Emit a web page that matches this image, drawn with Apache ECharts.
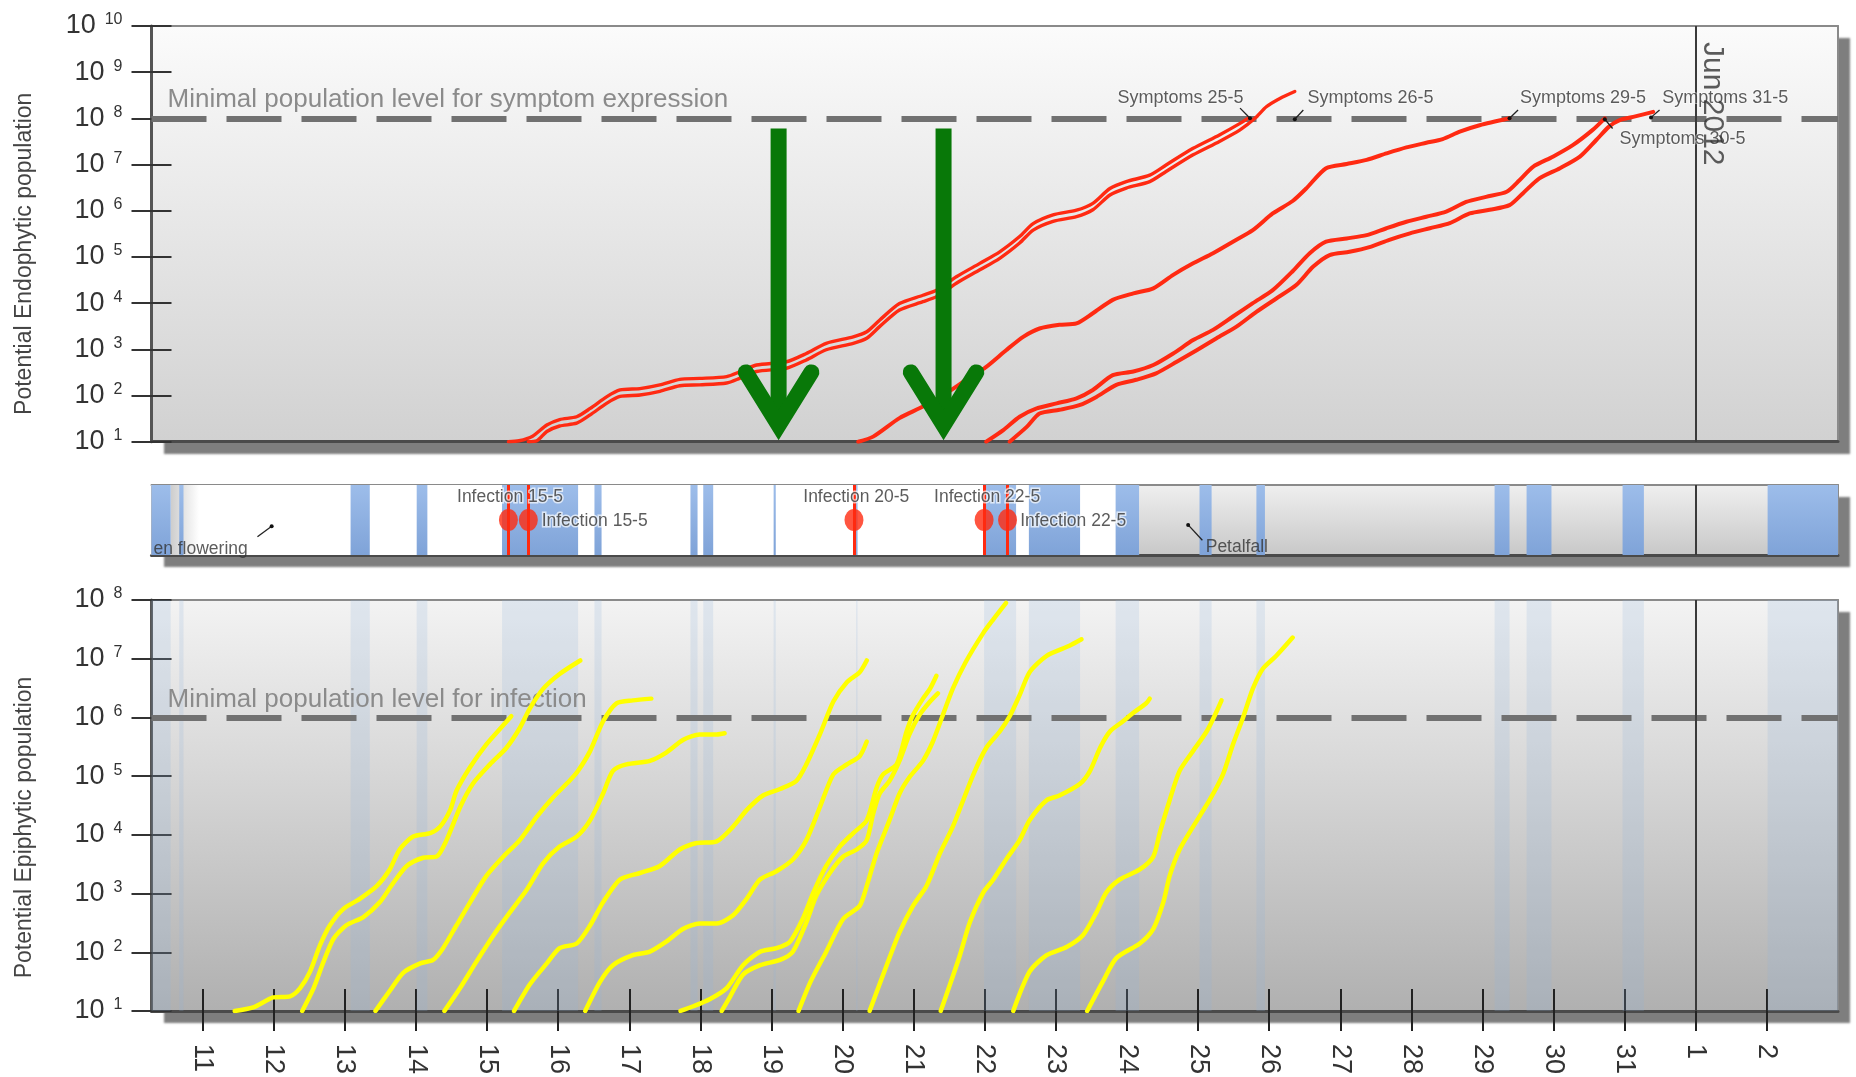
<!DOCTYPE html>
<html>
<head>
<meta charset="utf-8">
<script src="https://cdn.jsdelivr.net/npm/echarts@6/dist/echarts.min.js"></script>
<style>
html,body{margin:0;padding:0;background:#ffffff;}
#c{width:1856px;height:1077px;}
</style>
</head>
<body>
<div id="c"></div>
<script>
// ---------------- DATA (x = day of May; 32 = 1 June; y values are log10 of population) ----------------
const X_MIN = 10.28, X_MAX = 34.0;
const tickDays = [11,12,13,14,15,16,17,18,19,20,21,22,23,24,25,26,27,28,29,30,31,32,33];
const tickLabels = ['11','12','13','14','15','16','17','18','19','20','21','22','23','24','25','26','27','28','29','30','31','1','2'];
const monthStartDay = 32;           // 1 June
const monthLabel = 'Jun 2012';

// wet periods (rain / leaf wetness) [start, end] in days
const wetPeriods = [[10.28,10.55],[10.67,10.73],[13.08,13.35],[14.01,14.16],[15.21,16.28],[16.51,16.61],
  [17.86,17.96],[18.04,18.18],[19.03,19.06],[20.19,20.21],[21.99,22.44],[22.62,23.34],[23.84,24.17],
  [25.02,25.19],[25.82,25.94],[29.17,29.38],[29.62,29.97],[30.97,31.27],[33.01,34.0]];
const bloomPeriod = [10.28, 24.17];

const infectionDays = [15.30, 15.58, 20.16, 21.99, 22.32];
const infectionLabels = [
  {text:'Infection 15-5', at:[14.57,0.83]},
  {text:'Infection 15-5', at:[15.76,0.49]},
  {text:'Infection 20-5', at:[19.44,0.83]},
  {text:'Infection 22-5', at:[21.28,0.83]},
  {text:'Infection 22-5', at:[22.49,0.49]}
];
const stageLabels = [
  {text:'en flowering', at:[10.30,0.09]},
  {text:'Petalfall', at:[25.10,0.11]}
];
const stageLeaders = [
  [[11.77,0.26],[11.97,0.41]],
  [[25.06,0.21],[24.86,0.43]]
];

const symptomThreshold = 8;   // 10^8
const infectionThreshold = 6; // 10^6

// Potential endophytic population (log10)
const endoInf1530 = [[15.30,1.00],[15.45,1.02],[15.64,1.12],[15.84,1.36],[16.02,1.48],[16.26,1.54],[16.45,1.72],[16.68,1.97],[16.87,2.12],[17.15,2.15],[17.43,2.23],[17.71,2.35],[17.99,2.37],[18.37,2.41],[18.55,2.51],[18.79,2.66],[19.21,2.73],[19.49,2.91],[19.77,3.13],[20.15,3.27],[20.34,3.38],[20.52,3.63],[20.80,3.99],[21.13,4.17],[21.32,4.28],[21.60,4.57],[21.93,4.86],[22.21,5.11],[22.49,5.44],[22.68,5.72],[22.96,5.91],[23.29,6.01],[23.52,6.16],[23.76,6.48],[23.99,6.63],[24.32,6.77],[24.55,6.99],[24.93,7.35],[25.30,7.64],[25.59,7.89],[25.70,8.00]];
const endoInf1558 = [[15.58,1.00],[15.70,1.02],[15.84,1.22],[16.02,1.34],[16.26,1.40],[16.45,1.58],[16.68,1.83],[16.87,1.98],[17.15,2.01],[17.43,2.09],[17.71,2.21],[17.99,2.23],[18.37,2.27],[18.55,2.37],[18.79,2.52],[19.21,2.59],[19.49,2.77],[19.77,2.99],[20.15,3.13],[20.34,3.24],[20.52,3.49],[20.80,3.85],[21.13,4.03],[21.32,4.14],[21.60,4.43],[21.93,4.72],[22.21,4.97],[22.49,5.30],[22.68,5.58],[22.96,5.77],[23.29,5.87],[23.52,6.02],[23.76,6.34],[23.99,6.49],[24.32,6.63],[24.55,6.85],[24.93,7.21],[25.30,7.50],[25.59,7.75],[25.80,8.00],[25.96,8.25],[26.15,8.43],[26.36,8.58]];
const endoInf2016 = [[20.22,1.00],[20.43,1.11],[20.80,1.51],[21.13,1.76],[21.46,2.05],[21.74,2.34],[22.02,2.62],[22.30,2.98],[22.54,3.27],[22.77,3.45],[23.05,3.53],[23.29,3.56],[23.52,3.78],[23.80,4.07],[24.09,4.21],[24.37,4.32],[24.65,4.61],[24.93,4.86],[25.21,5.08],[25.49,5.33],[25.77,5.58],[26.05,5.94],[26.33,6.21],[26.52,6.48],[26.80,6.92],[27.09,7.01],[27.37,7.10],[27.65,7.24],[27.93,7.37],[28.21,7.47],[28.44,7.55],[28.68,7.71],[28.96,7.85],[29.38,8.00]];
const endoInf2199 = [[22.02,1.00],[22.26,1.25],[22.49,1.54],[22.73,1.72],[23.01,1.83],[23.29,1.94],[23.52,2.12],[23.80,2.44],[24.09,2.52],[24.37,2.66],[24.65,2.91],[24.93,3.20],[25.21,3.42],[25.49,3.71],[25.77,4.00],[26.05,4.28],[26.33,4.69],[26.57,5.08],[26.80,5.33],[27.09,5.40],[27.37,5.47],[27.65,5.62],[27.93,5.76],[28.21,5.87],[28.49,5.98],[28.77,6.19],[29.05,6.30],[29.34,6.41],[29.52,6.66],[29.71,6.95],[29.99,7.17],[30.27,7.42],[30.55,7.75],[30.72,8.00]];
const endoInf2232 = [[22.35,1.00],[22.59,1.32],[22.77,1.61],[23.05,1.69],[23.33,1.79],[23.57,1.97],[23.85,2.23],[24.13,2.34],[24.41,2.48],[24.70,2.73],[24.98,2.98],[25.26,3.24],[25.54,3.49],[25.82,3.81],[26.10,4.10],[26.38,4.39],[26.62,4.79],[26.85,5.04],[27.13,5.11],[27.41,5.21],[27.69,5.37],[27.98,5.51],[28.26,5.62],[28.54,5.73],[28.82,5.94],[29.10,6.02],[29.38,6.12],[29.57,6.38],[29.80,6.70],[30.09,6.92],[30.37,7.17],[30.60,7.53],[30.78,7.82],[30.93,7.96],[31.12,8.03],[31.40,8.14]];

const symptomLabels = [
  {text:'Symptoms 25-5', at:[23.86,8.44]},
  {text:'Symptoms 26-5', at:[26.53,8.44]},
  {text:'Symptoms 29-5', at:[29.52,8.44]},
  {text:'Symptoms 30-5', at:[30.92,7.55]},
  {text:'Symptoms 31-5', at:[31.52,8.44]}
];
const symptomLeaders = [
  [[25.59,8.22],[25.73,8.00]],
  [[26.48,8.18],[26.36,7.98]],
  [[29.50,8.18],[29.38,8.00]],
  [[30.83,7.78],[30.72,7.98]],
  [[31.49,8.18],[31.37,8.02]]
];

// highlighted days (green arrows)
const arrowDays = [19.10, 21.42];
const arrowTop = 7.78, arrowVertex = 1.36, arrowWingEnd = 2.50, arrowWingHalf = 0.46;

// Potential epiphytic population (log10)
const epi01 = [[11.45,1.00],[11.71,1.06],[11.99,1.23],[12.23,1.25],[12.37,1.39],[12.51,1.67],[12.65,2.12],[12.79,2.46],[12.98,2.74],[13.21,2.91],[13.45,3.13],[13.63,3.41],[13.77,3.75],[13.96,3.97],[14.20,4.03],[14.34,4.14],[14.48,4.42],[14.57,4.75],[14.76,5.15],[14.99,5.54],[15.23,5.87],[15.34,6.02]];
const epi02 = [[12.40,1.00],[12.56,1.39],[12.70,1.84],[12.84,2.23],[13.02,2.46],[13.26,2.60],[13.49,2.85],[13.68,3.18],[13.87,3.47],[14.10,3.61],[14.29,3.63],[14.43,3.91],[14.62,4.47],[14.80,4.87],[15.04,5.20],[15.27,5.48],[15.46,5.82],[15.60,6.15],[15.79,6.49],[16.02,6.74],[16.31,6.97]];
const epi03 = [[13.43,1.00],[13.63,1.34],[13.82,1.65],[14.06,1.81],[14.24,1.87],[14.38,2.07],[14.57,2.46],[14.76,2.85],[14.99,3.30],[15.23,3.63],[15.46,3.91],[15.70,4.31],[15.93,4.64],[16.16,4.92],[16.28,5.09],[16.45,5.43],[16.63,5.93],[16.82,6.24],[17.05,6.29],[17.31,6.32]];
const epi04 = [[14.40,1.00],[14.62,1.39],[14.85,1.84],[15.09,2.29],[15.32,2.68],[15.56,3.07],[15.79,3.52],[16.02,3.80],[16.26,3.97],[16.45,4.25],[16.63,4.70],[16.77,5.09],[16.96,5.20],[17.29,5.26],[17.52,5.40],[17.76,5.62],[17.99,5.71],[18.23,5.71],[18.34,5.73]];
const epi05 = [[15.38,1.00],[15.60,1.45],[15.84,1.81],[16.02,2.07],[16.26,2.15],[16.45,2.46],[16.63,2.85],[16.87,3.24],[17.15,3.35],[17.43,3.47],[17.71,3.75],[17.95,3.86],[18.23,3.89],[18.46,4.14],[18.65,4.42],[18.88,4.67],[19.12,4.78],[19.35,4.92],[19.49,5.20],[19.68,5.71],[19.87,6.27],[20.06,6.60],[20.24,6.77],[20.34,6.97]];
const epi06 = [[16.38,1.00],[16.59,1.50],[16.77,1.78],[17.05,1.95],[17.29,2.01],[17.52,2.18],[17.76,2.40],[17.99,2.49],[18.23,2.49],[18.46,2.63],[18.65,2.91],[18.84,3.24],[19.07,3.38],[19.30,3.58],[19.49,3.91],[19.68,4.47],[19.87,5.03],[20.06,5.20],[20.24,5.34],[20.34,5.59]];
const epi07 = [[17.72,1.00],[17.90,1.08],[18.13,1.20],[18.37,1.39],[18.60,1.78],[18.84,2.01],[19.07,2.07],[19.26,2.18],[19.44,2.57],[19.59,3.02],[19.77,3.47],[19.96,3.80],[20.15,4.03],[20.34,4.25],[20.48,4.81],[20.57,5.03],[20.76,5.20],[20.90,5.76],[20.99,6.04],[21.13,6.32],[21.23,6.49],[21.32,6.71]];
const epi08 = [[18.30,1.00],[18.42,1.25],[18.60,1.62],[18.84,1.78],[19.12,1.87],[19.30,2.01],[19.49,2.51],[19.63,2.96],[19.82,3.35],[20.01,3.63],[20.20,3.75],[20.34,3.91],[20.43,4.36],[20.52,4.70],[20.66,4.92],[20.80,5.26],[20.94,5.71],[21.08,6.04],[21.23,6.27],[21.34,6.41]];
const epi09 = [[19.38,1.00],[19.55,1.50],[19.77,2.01],[20.01,2.57],[20.24,2.79],[20.34,3.13],[20.48,3.69],[20.66,4.25],[20.80,4.70],[20.94,4.98],[21.13,5.26],[21.27,5.59],[21.41,6.04],[21.55,6.49],[21.73,6.94],[21.98,7.44],[22.12,7.67],[22.30,7.95]];
const epi10 = [[20.38,1.00],[20.62,1.78],[20.80,2.34],[20.99,2.79],[21.18,3.13],[21.37,3.69],[21.55,4.14],[21.84,5.03],[22.02,5.48],[22.21,5.76],[22.35,6.02],[22.49,6.38],[22.63,6.77],[22.87,7.05],[23.19,7.22],[23.36,7.33]];
const epi11 = [[21.38,1.00],[21.51,1.45],[21.65,1.95],[21.79,2.51],[21.98,3.02],[22.12,3.24],[22.30,3.58],[22.49,3.91],[22.63,4.25],[22.87,4.59],[23.05,4.67],[23.34,4.87],[23.48,5.09],[23.62,5.48],[23.76,5.76],[23.94,5.93],[24.08,6.07],[24.27,6.24],[24.32,6.32]];
const epi12 = [[22.40,1.00],[22.63,1.67],[22.87,1.95],[23.15,2.09],[23.38,2.29],[23.57,2.68],[23.71,3.02],[23.90,3.24],[24.18,3.41],[24.37,3.63],[24.46,4.03],[24.60,4.59],[24.74,5.09],[24.93,5.43],[25.12,5.76],[25.26,6.10],[25.33,6.29]];
const epi13 = [[23.44,1.00],[23.66,1.50],[23.85,1.90],[24.18,2.15],[24.37,2.40],[24.51,2.85],[24.60,3.30],[24.74,3.75],[24.93,4.14],[25.16,4.59],[25.35,5.03],[25.49,5.54],[25.63,5.99],[25.77,6.49],[25.91,6.83],[26.10,7.05],[26.33,7.36]];

const endoCurves = [endoInf1530, endoInf1558, endoInf2016, endoInf2199, endoInf2232];
const epiCurves = [epi01, epi02, epi03, epi04, epi05, epi06, epi07, epi08, epi09, epi10, epi11, epi12, epi13];

// ---------------- STYLE / LAYOUT ----------------
const FONT = "'Liberation Sans', Arial, sans-serif";
const GL = 151.5, GW = 1686.5;
const RED = '#ff2a12', YELLOW = '#ffff00', GREEN = '#087808';
const pow = e => Math.pow(10, e);
const idn = v => v;
const grad = (c1, c2) => new echarts.graphic.LinearGradient(0,0,0,1,[{offset:0,color:c1},{offset:1,color:c2}]);
const panelShadow = {shadowColor:'#7e7e7e', shadowBlur:2, shadowOffsetX:12, shadowOffsetY:12, borderWidth:0};

const yLabel = {
  margin: 29,
  formatter: v => '{b|10}{s|' + Math.round(Math.log10(v)) + '}',
  rich: {
    b: {fontSize:27, lineHeight:28, color:'#333', fontFamily:FONT},
    s: {fontSize:16, lineHeight:14, color:'#333', verticalAlign:'top', padding:[0,0,0,9], fontFamily:FONT}
  }
};
function logAxis(grid, min, max, name, pad) {
  return {type:'log', logBase:10, gridIndex:grid, min, max, position:'left',
    axisLine:{show:true, onZero:false, lineStyle:{color:'#555', width:3}},
    axisTick:{show:true, length:20, lineStyle:{color:'#333', width:2}},
    axisLabel:yLabel, splitLine:{show:false}, minorTick:{show:false},
    name, nameLocation:'middle', nameGap:115,
    nameTextStyle:{fontSize:23, color:'#444', fontFamily:FONT, padding:[0,pad,0,0]}};
}
function logAxisInner(grid, min, max) {
  return {type:'log', logBase:10, gridIndex:grid, min, max, position:'left',
    axisLine:{show:false}, axisTick:{show:true, inside:true, length:20, lineStyle:{color:'#333', width:2}},
    axisLabel:{show:false}, splitLine:{show:false}};
}
function xBase(grid, extra) {
  return Object.assign({type:'value', gridIndex:grid, min:X_MIN, max:X_MAX, position:'bottom',
    splitLine:{show:false}, axisLabel:{show:false}, axisTick:{show:false},
    axisLine:{show:true, onZero:false, lineStyle:{color:'#4a4a4a', width:3}}}, extra || {});
}
// frame edges (top and right) drawn as bare axis lines
function frameX(grid) {
  return {type:'value', gridIndex:grid, min:X_MIN, max:X_MAX, position:'top', splitLine:{show:false},
    axisLabel:{show:false}, axisTick:{show:false}, axisLine:{show:true, onZero:false, lineStyle:{color:'#8a8a8a', width:2}}};
}
function frameY(grid) {
  return {type:'value', gridIndex:grid, min:0, max:1, position:'right', splitLine:{show:false},
    axisLabel:{show:false}, axisTick:{show:false}, axisLine:{show:true, onZero:false, lineStyle:{color:'#8a8a8a', width:2}}};
}

function curve(pts, xi, yi, color, width, z) {
  return {type:'line', xAxisIndex:xi, yAxisIndex:yi, silent:true, showSymbol:false, smooth:0.25,
    data: pts.map(p => [p[0], pow(p[1])]), lineStyle:{color, width, cap:'round', join:'round'}, z: z || 5};
}
function labelSeries(items, xi, yi, conv, style) {
  return {type:'scatter', xAxisIndex:xi, yAxisIndex:yi, silent:true, symbolSize:1, z:9,
    itemStyle:{color:'rgba(0,0,0,0)'},
    data: items.map(it => ({name: it.text, value:[it.at[0], conv(it.at[1])]})),
    label: Object.assign({show:true, position:'right', distance:0, formatter:'{b}', fontFamily:FONT}, style)};
}
function leaderSeries(pts, xi, yi, conv) {
  return {type:'line', xAxisIndex:xi, yAxisIndex:yi, silent:true, z:9, showSymbol:true,
    lineStyle:{color:'#222', width:1.3}, itemStyle:{color:'#111'},
    data: pts.map((p,i) => ({value:[p[0], conv(p[1])], symbol: i === pts.length-1 ? 'circle' : 'none', symbolSize:4}))};
}
const monthLine = {xAxis: monthStartDay, lineStyle:{color:'#3a3a3a', width:2, type:'solid'}, label:{show:false}};
function thresholdLine(e, text) {
  return {yAxis: pow(e), lineStyle:{color:'#717171', width:6, type:[55,20]},
    label:{show:true, position:'insideStartTop', distance:[16,5], formatter:text, fontSize:26, color:'#8b8b8b', fontFamily:FONT}};
}

const series = [];

// ---- top panel: endophytic ----
endoCurves.forEach((c, i) => {
  const s = curve(c, 0, 0, RED, i < 2 ? 3.4 : 4, 5);
  if (i === 0) {
    s.markLine = {silent:true, symbol:['none','none'], animation:false,
      data:[thresholdLine(symptomThreshold, 'Minimal population level for symptom expression'), monthLine]};
  }
  series.push(s);
});
symptomLeaders.forEach(l => series.push(leaderSeries(l, 0, 0, pow)));
series.push(labelSeries(symptomLabels, 0, 0, pow, {fontSize:18, color:'#333', textBorderColor:'rgba(255,255,255,0.6)', textBorderWidth:2}));
series.push({type:'scatter', xAxisIndex:0, yAxisIndex:0, silent:true, symbolSize:1, z:9, itemStyle:{color:'rgba(0,0,0,0)'},
  data:[{name:monthLabel, value:[monthStartDay + 0.23, pow(9.65)]}],
  label:{show:true, position:'inside', rotate:-90, align:'left', verticalAlign:'middle', formatter:'{b}', fontSize:30, color:'#333', fontFamily:FONT}});
arrowDays.forEach(d => {
  series.push({type:'line', xAxisIndex:0, yAxisIndex:0, silent:true, showSymbol:false, z:12,
    data:[[d, pow(arrowTop)], [d, pow(arrowVertex)]], lineStyle:{color:GREEN, width:16, cap:'butt'}});
  series.push({type:'line', xAxisIndex:0, yAxisIndex:0, silent:true, showSymbol:false, z:12, clip:false,
    data:[[d - arrowWingHalf, pow(arrowWingEnd)], [d, pow(arrowVertex)], [d + arrowWingHalf, pow(arrowWingEnd)]],
    lineStyle:{color:GREEN, width:16, cap:'round', join:'miter'}});
});

// ---- middle strip: wet periods + infections ----
const stripAreas = [[{xAxis:bloomPeriod[0], itemStyle:{color:'#ffffff'}}, {xAxis:bloomPeriod[1]}],
  [{xAxis:wetPeriods[0][1], itemStyle:{color:new echarts.graphic.LinearGradient(0,0,1,0,[{offset:0,color:'#cdcdcd'},{offset:1,color:'#ffffff'}])}}, {xAxis:10.95}]];
wetPeriods.forEach(w => stripAreas.push([{xAxis:w[0], itemStyle:{color:grad('#9dbdea', '#7fa3d8')}}, {xAxis:w[1]}]));
series.push({type:'line', xAxisIndex:1, yAxisIndex:2, silent:true, showSymbol:false, z:1,
  data:[[X_MIN, 0]], lineStyle:{opacity:0},
  markArea:{silent:true, animation:false, data:stripAreas},
  markLine:{silent:true, symbol:['none','none'], animation:false, data:[monthLine]}});
series.push({type:'scatter', xAxisIndex:1, yAxisIndex:2, silent:true, z:6, symbol:'circle', symbolSize:[19,22],
  itemStyle:{color:'#ff2a10'}, data: infectionDays.map(d => [d, 0.5]),
  markLine:{silent:true, symbol:['none','none'], animation:false,
    data: infectionDays.map(d => ({xAxis:d, lineStyle:{color:'#ff2a10', width:3, type:'solid'}, label:{show:false}}))}});
series.push(labelSeries(infectionLabels, 1, 2, idn, {fontSize:17.5, color:'#333', textBorderColor:'rgba(255,255,255,0.85)', textBorderWidth:3}));
series.push(labelSeries(stageLabels, 1, 2, idn, {fontSize:17.5, color:'#333'}));
stageLeaders.forEach(l => series.push(leaderSeries(l, 1, 2, idn)));

// ---- bottom panel: epiphytic ----
const epiAreas = wetPeriods.map(w => [{xAxis:w[0], itemStyle:{color:'rgba(145,178,222,0.2)'}}, {xAxis:w[1]}]);
series.push({type:'line', xAxisIndex:2, yAxisIndex:3, silent:true, showSymbol:false, z:1,
  data:[[X_MIN, 10]], lineStyle:{opacity:0},
  markArea:{silent:true, animation:false, data:epiAreas},
  markLine:{silent:true, symbol:['none','none'], animation:false,
    data:[thresholdLine(infectionThreshold, 'Minimal population level for infection'), monthLine]}});
epiCurves.forEach(c => series.push(curve(c, 2, 3, YELLOW, 4.5, 5)));

const option = {
  animation:false,
  backgroundColor:'#ffffff',
  textStyle:{fontFamily:FONT},
  grid:[
    Object.assign({left:GL, top:25.9, width:GW, height:415.8, show:true, backgroundColor:grad('#fbfbfb','#d1d1d1')}, panelShadow),
    Object.assign({left:GL, top:485, width:GW, height:70, show:true, backgroundColor:grad('#efefef','#c8c8c8')}, panelShadow),
    Object.assign({left:GL, top:600, width:GW, height:416.7, show:true, backgroundColor:grad('#f3f3f3','#b0b0b0')}, panelShadow)
  ],
  xAxis:[
    xBase(0),
    xBase(1),
    xBase(2, {
      axisTick:{show:true, customValues:tickDays, length:20, lineStyle:{color:'#222', width:2}},
      axisLabel:{show:true, customValues:tickDays, rotate:-90, margin:33, fontSize:27, color:'#333', fontFamily:FONT,
        formatter: v => tickLabels[tickDays.indexOf(Math.round(v))]}
    }),
    xBase(2, {axisLine:{show:false}, axisTick:{show:true, inside:true, customValues:tickDays, length:22, lineStyle:{color:'#222', width:2}}}),
    frameX(0), frameX(1), frameX(2)
  ],
  yAxis:[
    logAxis(0, 10, 1e10, 'Potential Endophytic population', 40),
    logAxisInner(0, 10, 1e10),
    {type:'value', gridIndex:1, min:0, max:1, position:'left', splitLine:{show:false}, axisLabel:{show:false}, axisTick:{show:false},
      axisLine:{show:true, onZero:false, lineStyle:{color:'#666', width:2}}},
    logAxis(2, 10, 1e8, 'Potential Epiphytic population', 44),
    logAxisInner(2, 10, 1e8),
    frameY(0), frameY(1), frameY(2)
  ],
  series
};

const chart = echarts.init(document.getElementById('c'), null, {renderer:'canvas', width:1856, height:1077});
chart.setOption(option);
</script>
</body>
</html>
